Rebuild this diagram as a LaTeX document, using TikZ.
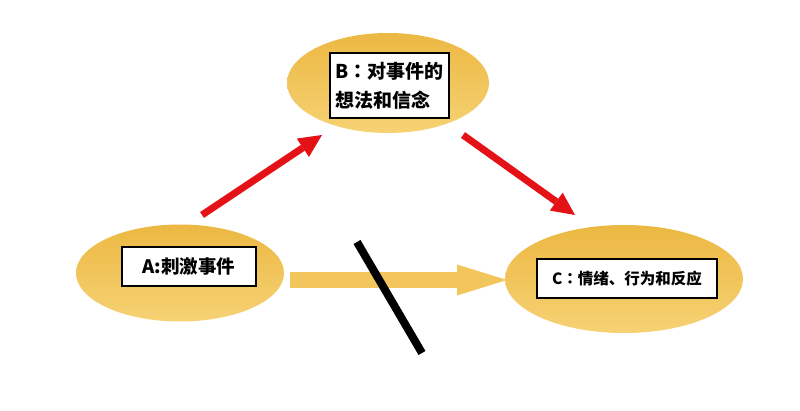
\documentclass[tikz,border=0pt]{standalone}
\usepackage{fontspec}
\newfontfamily\cjk{Noto Sans CJK SC}
\newfontfamily\cjktc{Noto Sans CJK TC}
\newcommand{\fwcolon}{{\cjktc\bfseries ：}}
\usetikzlibrary{shapes.geometric,arrows.meta}
\definecolor{goldtop}{RGB}{236,184,66}
\definecolor{goldbot}{RGB}{246,210,116}
\definecolor{shaftgold}{RGB}{242,198,92}
\definecolor{redarr}{RGB}{228,18,22}
\tikzset{
  blob/.style={ellipse, inner sep=0pt, top color=goldtop, bottom color=goldbot, draw=none},
  labelbox/.style={draw=black, line width=1.3pt, fill=white, inner sep=0pt, font=\cjk\bfseries},
  redlink/.style={draw=redarr, line width=7pt, -{Triangle[length=23pt,width=22pt,line width=0pt]}},
  goldlink/.style={draw=shaftgold, line width=16pt, -{Triangle[length=50pt,width=31pt,line width=0pt]}},
  blockbar/.style={draw=black, line width=8pt}
}
\begin{document}
\begin{tikzpicture}[x=1pt,y=-1pt]
\useasboundingbox[fill=white] (0,0) rectangle (800,411);
% ellipses
\node[blob, minimum width=208pt, minimum height=97pt] (ea) at (180,273) {};
\node[blob, minimum width=202pt, minimum height=100pt] (eb) at (388,83) {};
\node[blob, minimum width=238pt, minimum height=108pt] (ec) at (624,279) {};
% label boxes
\node[labelbox, minimum width=134pt, minimum height=39pt, font=\cjk\bfseries\fontsize{18.5}{22}\selectfont] (a) at (189,266.5) {A:刺激事件};
\node[labelbox, minimum width=119pt, minimum height=65pt, align=left, font=\cjk\bfseries\fontsize{19}{29}\selectfont] (b) at (389.5,85.5) {B\fwcolon 对事件的\\想法和信念};
\node[labelbox, minimum width=180pt, minimum height=39pt, font=\cjk\bfseries\fontsize{15.5}{19}\selectfont] (c) at (627,278.5) {C\fwcolon 情绪、行为和反应};
% connectors
\coordinate (r1s) at (202,215);
\coordinate (r1e) at (322,135);
\coordinate (r2s) at (463,135);
\coordinate (r2e) at (575,215);
\coordinate (gs) at (290,280);
\coordinate (ge) at (507,280);
\coordinate (ks) at (357,242);
\coordinate (ke) at (422,353);
\draw[redlink] (r1s) -- (r1e);
\draw[redlink] (r2s) -- (r2e);
\draw[goldlink] (gs) -- (ge);
\draw[blockbar] (ks) -- (ke);
\end{tikzpicture}
\end{document}
